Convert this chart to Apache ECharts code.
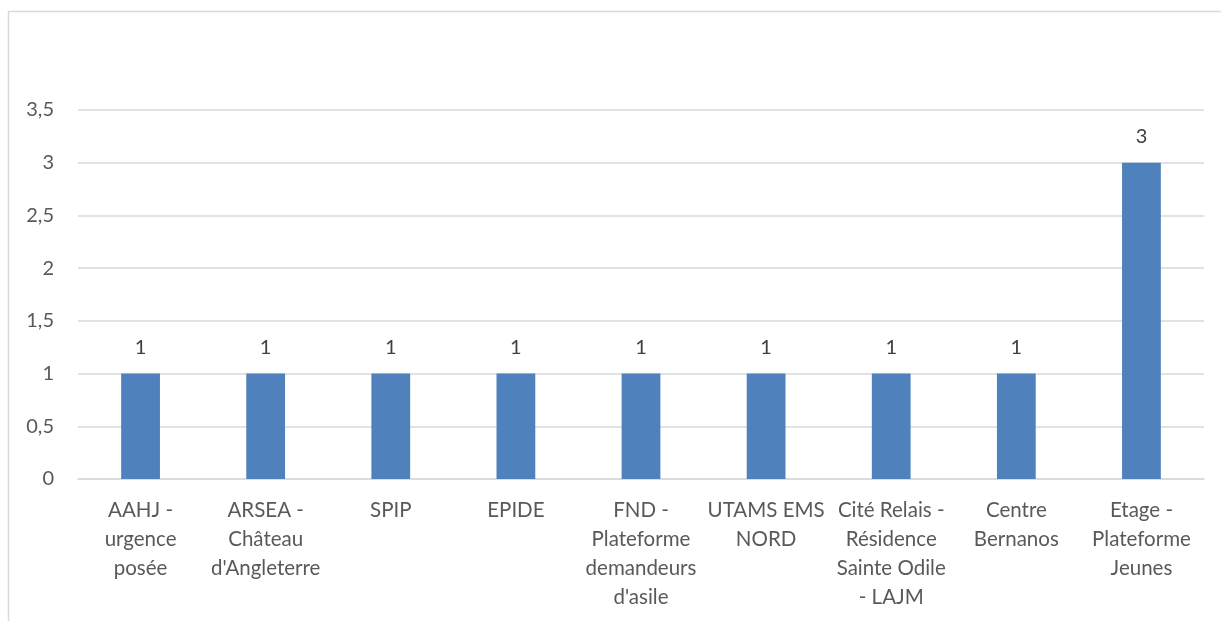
<!DOCTYPE html>
<html>
<head>
<meta charset="utf-8">
<script src="https://cdn.jsdelivr.net/npm/echarts@6/dist/echarts.min.js"></script>
<style>
    html, body { margin: 0; padding: 0; background: #fff; }
    #chart { width: 1221px; height: 621px; }
</style>
</head>
<body>
<div id="chart"></div>
<script>
// catégories (retours à la ligne comme dans le graphique d'origine)
const categories = [
    "AAHJ -\nurgence\nposée",
    "ARSEA -\nChâteau\nd'Angleterre",
    "SPIP",
    "EPIDE",
    "FND -\nPlateforme\ndemandeurs\nd'asile",
    "UTAMS EMS\nNORD",
    "Cité Relais -\nRésidence\nSainte Odile\n- LAJM",
    "Centre\nBernanos",
    "Etage -\nPlateforme\nJeunes"
];
const values = [1, 1, 1, 1, 1, 1, 1, 1, 3];
const yTicks = [0, 0.5, 1, 1.5, 2, 2.5, 3, 3.5];

const chart = echarts.init(document.getElementById('chart'));
const font = 'Lato, "Open Sans", sans-serif';

chart.setOption({
    animation: false,
    textStyle: { fontFamily: font },
    graphic: [{
        type: 'rect',
        shape: { x: 8.5, y: 11.5, width: 1400, height: 800 },
        style: { fill: 'none', stroke: '#d9d9d9', lineWidth: 1.5 },
        silent: true
    }],
    grid: {
        left: 78,
        right: 17,
        top: 110,
        bottom: 142
    },
    xAxis: {
        type: 'category',
        data: categories,
        axisTick: { show: false },
        axisLine: { lineStyle: { color: '#d9d9d9', width: 1.5 } },
        axisLabel: {
            interval: 0,
            margin: 17,
            color: '#595959',
            fontSize: 20.5,
            lineHeight: 29,
            fontFamily: font
        }
    },
    yAxis: {
        type: 'value',
        min: yTicks[0],
        max: yTicks[yTicks.length - 1],
        interval: 0.5,
        axisLine: { show: false },
        axisTick: { show: false },
        splitLine: { lineStyle: { color: '#d9d9d9', width: 1.5 } },
        axisLabel: {
            margin: 24,
            color: '#595959',
            fontSize: 20,
            fontFamily: font,
            formatter: v => String(v).replace('.', ',')
        }
    },
    series: [{
        type: 'bar',
        data: values,
        barWidth: '31%',
        itemStyle: { color: '#4f81bd' },
        label: {
            show: true,
            position: 'top',
            distance: 16,
            color: '#404040',
            fontSize: 20,
            fontFamily: font
        }
    }]
});
</script>
</body>
</html>
